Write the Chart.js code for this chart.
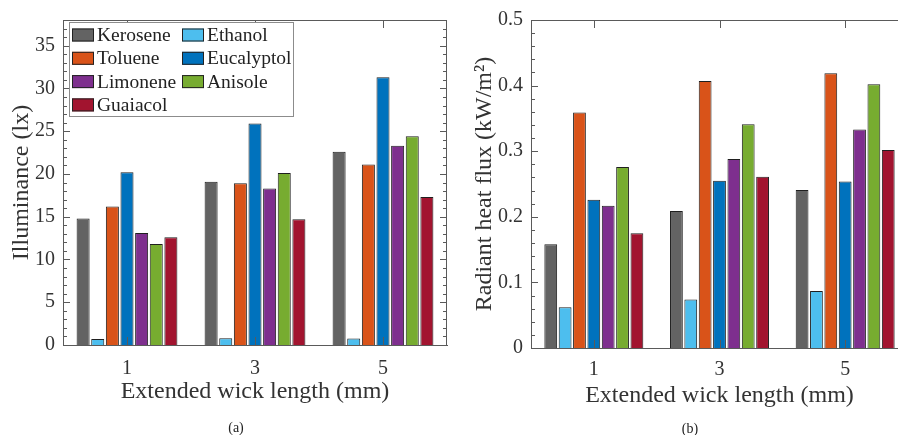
<!DOCTYPE html>
<html>
<head>
<meta charset="utf-8">
<script src="https://cdn.jsdelivr.net/npm/chart.js@4.4.0/dist/chart.umd.min.js"></script>
<style>
html, body { margin: 0; padding: 0; width: 898px; height: 435px; overflow: hidden; background: #fff; }
body { position: relative; font-family: "Liberation Serif", "Times New Roman", serif; }
#wrapA { position: absolute; left: 0; top: 0; width: 455px; height: 435px; }
#wrapB { position: absolute; left: 450px; top: 0; width: 470px; height: 435px; }
.cap { position: absolute; width: 60px; text-align: center; font-size: 14px; line-height: 16px; color: #222; }
</style>
</head>
<body>
<div id="wrapA"><canvas id="chartA" width="455" height="435"></canvas></div>
<div id="wrapB"><canvas id="chartB" width="470" height="435"></canvas></div>
<div class="cap" style="left:206px; top:420px;">(a)</div>
<div class="cap" style="left:660px; top:421px;">(b)</div>
<script>
// Categories and legend
const wickLengths = ['1', '3', '5'];
const fuels = ['Kerosene', 'Ethanol', 'Toluene', 'Eucalyptol', 'Limonene', 'Anisole', 'Guaiacol'];
const fuelColors = ['#636363', '#4DBEEE', '#D95319', '#0072BD', '#7E2F8E', '#77AC30', '#A2142F'];

// (a) Illuminance (lx)
const luxKerosene   = [14.8, 19.1, 22.6];
const luxEthanol    = [0.7, 0.8, 0.75];
const luxToluene    = [16.2, 18.9, 21.1];
const luxEucalyptol = [20.2, 25.9, 31.3];
const luxLimonene   = [13.1, 18.3, 23.3];
const luxAnisole    = [11.8, 20.1, 24.4];
const luxGuaiacol   = [12.6, 14.7, 17.3];
const luxTicks = [0, 5, 10, 15, 20, 25, 30, 35];

// (b) Radiant heat flux (kW/m2)
const fluxKerosene   = [0.158, 0.209, 0.241];
const fluxEthanol    = [0.062, 0.074, 0.087];
const fluxToluene    = [0.359, 0.407, 0.419];
const fluxEucalyptol = [0.226, 0.255, 0.254];
const fluxLimonene   = [0.217, 0.288, 0.333];
const fluxAnisole    = [0.276, 0.341, 0.402];
const fluxGuaiacol   = [0.175, 0.261, 0.302];
const fluxTicks = [0, 0.1, 0.2, 0.3, 0.4, 0.5];

const axisColor = '#5a5a5a';
const textColor = '#333';
const serif = '"Liberation Serif", "Times New Roman", serif';

// Box and inward ticks like MATLAB axes
const matlabAxes = {
    id: 'matlabAxes',
    afterDatasetsDraw(chart, args, opts) {
        const {ctx, chartArea: a, scales: {x, y}} = chart;
        ctx.save();
        ctx.strokeStyle = axisColor;
        ctx.lineWidth = 1;
        ctx.beginPath();
        ctx.moveTo(a.left, a.top + 0.5);
        ctx.lineTo(a.right, a.top + 0.5);
        ctx.moveTo(a.right - 0.5, a.top);
        ctx.lineTo(a.right - 0.5, a.bottom);
        y.ticks.forEach(t => {
            const py = Math.round(y.getPixelForValue(t.value)) + 0.5;
            ctx.moveTo(a.left, py); ctx.lineTo(a.left + 7, py);
            ctx.moveTo(a.right, py); ctx.lineTo(a.right - 7, py);
        });
        for (let v = y.min; v <= y.max + 1e-9; v += opts.minor) {
            const py = Math.round(y.getPixelForValue(v)) + 0.5;
            ctx.moveTo(a.left, py); ctx.lineTo(a.left + 4, py);
            ctx.moveTo(a.right, py); ctx.lineTo(a.right - 4, py);
        }
        x.ticks.forEach((t, i) => {
            const px = Math.round(x.getPixelForValue(i)) + 0.5;
            ctx.moveTo(px, a.bottom); ctx.lineTo(px, a.bottom - 8);
            ctx.moveTo(px, a.top); ctx.lineTo(px, a.top + 8);
        });
        ctx.stroke();
        ctx.restore();
    }
};

// Two-column legend box inside panel (a)
const boxLegend = {
    id: 'boxLegend',
    afterDraw(chart, args, opts) {
        if (!opts.show) return;
        const ctx = chart.ctx;
        ctx.save();
        ctx.fillStyle = '#fff';
        ctx.fillRect(69.5, 22.5, 224, 94);
        ctx.strokeStyle = '#8c8c8c';
        ctx.lineWidth = 1;
        ctx.strokeRect(69.5, 22.5, 224, 94);
        ctx.font = '19.5px ' + serif;
        ctx.textBaseline = 'middle';
        chart.data.datasets.forEach((ds, i) => {
            const col = i % 2, row = Math.floor(i / 2);
            const sx = col === 0 ? 72 : 182;
            const cy = 35 + row * 23.3;
            ctx.fillStyle = ds.backgroundColor;
            ctx.fillRect(sx, cy - 6.5, 22, 13);
            ctx.strokeStyle = '#222';
            ctx.strokeRect(sx + 0.5, cy - 6, 21, 12);
            ctx.fillStyle = '#222';
            ctx.fillText(ds.label, sx + 25, cy + 1);
        });
        ctx.restore();
    }
};

function makeDatasets(series) {
    return fuels.map((name, i) => ({
        label: name,
        data: series[i],
        backgroundColor: fuelColors[i],
        borderColor: '#1f1f1f',
        borderWidth: 1,
        categoryPercentage: 0.8,
        barPercentage: 0.89
    }));
}

function makeChart(id, series, cfg) {
    const ctx = document.getElementById(id).getContext('2d');
    return new Chart(ctx, {
        type: 'bar',
        data: { labels: wickLengths, datasets: makeDatasets(series) },
        options: {
            responsive: false,
            animation: false,
            layout: { padding: cfg.padding },
            plugins: {
                legend: { display: false },
                tooltip: { enabled: false },
                matlabAxes: { minor: cfg.minor },
                boxLegend: { show: cfg.legend }
            },
            scales: {
                x: {
                    offset: true,
                    grid: { display: false, drawTicks: false },
                    border: { display: true, color: axisColor, width: 1 },
                    ticks: { color: textColor, padding: cfg.xPad, font: { family: serif, size: 20 } },
                    title: {
                        display: true,
                        text: 'Extended wick length (mm)',
                        color: textColor,
                        font: { family: serif, size: 24 },
                        padding: { top: 0, bottom: cfg.xTitlePad }
                    },
                    afterFit: s => { s.height = cfg.xHeight; }
                },
                y: {
                    min: 0,
                    max: cfg.yMax,
                    grid: { display: false, drawTicks: false },
                    border: { display: true, color: axisColor, width: 1 },
                    afterBuildTicks: s => { s.ticks = cfg.ticks.map(v => ({ value: v })); },
                    ticks: {
                        color: textColor,
                        padding: 8,
                        font: { family: serif, size: 20 },
                        callback: v => String(v)
                    },
                    title: {
                        display: true,
                        text: cfg.yTitle,
                        color: textColor,
                        font: { family: serif, size: 24 },
                        padding: { top: cfg.yTitlePad, bottom: 0 }
                    },
                    afterFit: s => { s.width = cfg.yWidth; }
                }
            }
        },
        plugins: [matlabAxes, boxLegend]
    });
}

makeChart('chartA',
    [luxKerosene, luxEthanol, luxToluene, luxEucalyptol, luxLimonene, luxAnisole, luxGuaiacol],
    { padding: { top: 15, right: 8, left: 0, bottom: 0 }, yMax: 38, ticks: luxTicks, minor: 1,
      yTitle: 'Illuminance (lx)', yTitlePad: 7, yWidth: 63, xHeight: 90, xPad: 12, xTitlePad: 29, legend: true });

makeChart('chartB',
    [fluxKerosene, fluxEthanol, fluxToluene, fluxEucalyptol, fluxLimonene, fluxAnisole, fluxGuaiacol],
    { padding: { top: 20, right: 12, left: 0, bottom: 0 }, yMax: 0.5, ticks: fluxTicks, minor: 0.02,
      yTitle: 'Radiant heat flux (kW/m\u00B2)', yTitlePad: 20, yWidth: 81, xHeight: 87, xPad: 10, xTitlePad: 25, legend: false });
</script>
</body>
</html>
